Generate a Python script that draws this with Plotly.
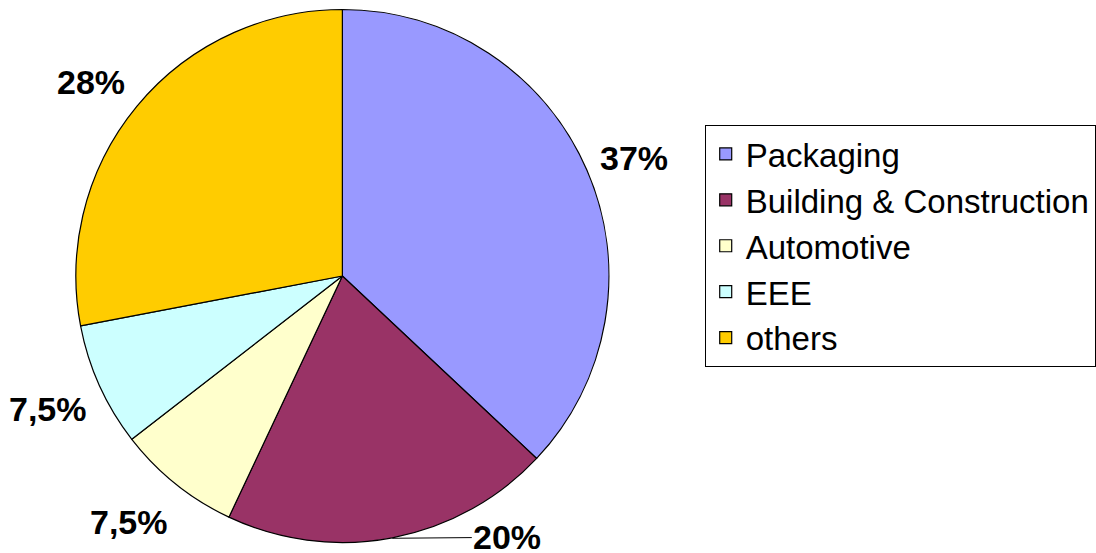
import math
import plotly.graph_objects as go

categories = ["Packaging", "Building & Construction", "Automotive", "EEE", "others"]
values = [37, 20, 7.5, 7.5, 28]
label_texts = ["37%", "20%", "7,5%", "7,5%", "28%"]
colors = ["#9999FF", "#993366", "#FFFFCC", "#CCFFFF", "#FFCC00"]

W, H = 1096, 553
# pie placement (pixels)
cx_px, cy_px, R_px = 343, 276, 267
dom_x = [(cx_px - R_px) / W, (cx_px + R_px) / W]
dom_y = [1 - (cy_px + R_px) / H, 1 - (cy_px - R_px) / H]

fig = go.Figure()
fig.add_trace(go.Pie(
    labels=categories, values=values, sort=False, direction="clockwise",
    rotation=0, textinfo="none", hoverinfo="label+percent",
    marker=dict(colors=colors, line=dict(color="black", width=1.2)),
    domain=dict(x=dom_x, y=dom_y),
))

# label placement derived from slice mid-angles (radial factor, angle nudge in degrees)
label_k = [1.18, None, 1.22, 1.21, 1.19]
label_nudge = [1.4, 0, 2.3, 0, -2.0]
total = sum(values)
cum = 0
annotations = []
for i, v in enumerate(values):
    mid = (cum + v / 2) / total * 2 * math.pi
    cum += v
    if label_k[i] is None:
        sx, sy = math.sin(mid), math.cos(mid)
        ex = (cx_px + R_px * sx) / W
        ey = 1 - (cy_px - R_px * sy) / H
        annotations.append(dict(
            x=ex, y=ey, xref="paper", yref="paper", text="<b>%s</b>" % label_texts[i],
            showarrow=True, arrowhead=0, arrowwidth=1, arrowcolor="black",
            ax=115, ay=-1, font=dict(size=34, color="black"),
            xanchor="center", yanchor="middle"))
    else:
        a = mid + math.radians(label_nudge[i])
        sx, sy = math.sin(a), math.cos(a)
        k = label_k[i]
        x = (cx_px + k * R_px * sx) / W
        y = 1 - (cy_px - k * R_px * sy) / H
        annotations.append(dict(
            x=x, y=y, xref="paper", yref="paper", text="<b>%s</b>" % label_texts[i],
            showarrow=False, font=dict(size=34, color="black"),
            xanchor="center", yanchor="middle"))

fig.update_layout(
    width=W, height=H,
    margin=dict(l=0, r=0, t=0, b=0),
    paper_bgcolor="white", plot_bgcolor="white",
    font=dict(family="Liberation Sans, Arial, sans-serif", color="black"),
    annotations=annotations,
    legend=dict(
        x=706 / W, y=1 - 125 / H, xanchor="left", yanchor="top",
        bordercolor="black", borderwidth=1, bgcolor="white",
        font=dict(size=33, color="black"), traceorder="normal",
        itemwidth=30,
    ),
    showlegend=True,
)

fig.write_html("out.html", config={"displayModeBar": False},
               post_script="document.body.style.margin='0px';")
